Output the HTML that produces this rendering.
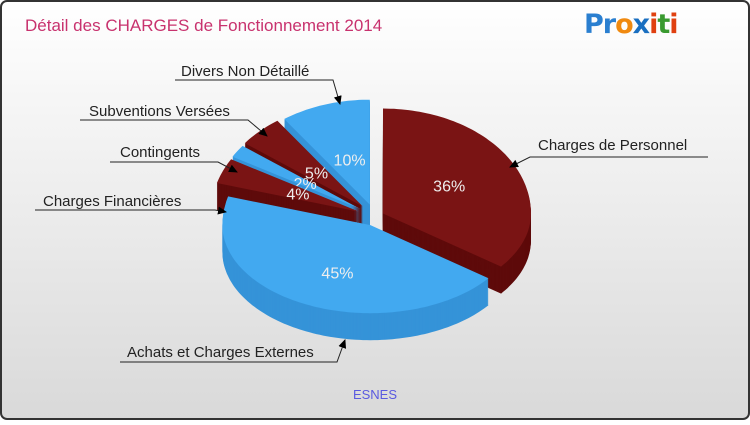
<!DOCTYPE html>
<html><head><meta charset="utf-8"><style>
body{margin:0;width:750px;height:420px;overflow:hidden;font-family:"Liberation Sans",sans-serif}
</style></head><body>
<svg id="c" width="750" height="420" viewBox="0 0 750 420">
<defs>
<linearGradient id="bg" x1="0" y1="0" x2="0" y2="1"><stop offset="0" stop-color="#ffffff"/><stop offset="1" stop-color="#d9d9d9"/></linearGradient>
<marker id="ar" markerWidth="10" markerHeight="10" refX="8" refY="4" orient="auto" markerUnits="userSpaceOnUse"><path d="M0,0 L9,4 L0,8 z" fill="#000"/></marker>
</defs>
<rect x="1" y="1" width="748" height="418" rx="6" fill="url(#bg)" stroke="#333" stroke-width="2"/>
<text x="25" y="31" font-size="17" fill="#c8326e">Détail des CHARGES de Fonctionnement 2014</text>
<text x="584" y="33" font-size="27" font-weight="bold" font-family="'DejaVu Sans',sans-serif" letter-spacing="-1"><tspan fill="#2a7fd0">Pr</tspan><tspan fill="#f08a10">o</tspan><tspan fill="#1a6fc0">x</tspan><tspan fill="#e04010">i</tspan><tspan fill="#3a9a30">t</tspan><tspan fill="#e04010">i</tspan></text>
<g id="slices"></g>
<g id="labels" font-size="15" fill="#222"></g>
<text x="375" y="399" font-size="13" fill="#5a5ae0" text-anchor="middle">ESNES</text>
</svg>
<script>
const categories=["Charges de Personnel","Achats et Charges Externes","Charges Financières","Contingents","Subventions Versées","Divers Non Détaillé"];
const values=[36,45,4,2,5,10];
const pctLabels=["36%","45%","4%","2%","5%","10%"];
const NS="http://www.w3.org/2000/svg";
const cx=374,cy=218,rx=148,ryTop=105,ryBot=88,depth=27;
const explodeBy=[10,8,16,16,16,14];
const colTop=["#7a1414","#42a9f0"],colSide=["#5e0a0a","#3593d8"];
const total=values.reduce((a,b)=>a+b,0);
const g=document.getElementById('slices');
let a=-Math.PI/2;const sl=[];
values.forEach((v,i)=>{const s=a,e=a+v/total*2*Math.PI;a=e;sl.push({i,s,e,m:(s+e)/2});});
function ry(t){return Math.sin(t)<0?ryTop:ryBot;}
function path(s,e,ox,oy){const p=[`M${ox},${oy}`];const n=Math.max(2,Math.ceil((e-s)*40));for(let k=0;k<=n;k++){const t=s+(e-s)*k/n;p.push(`L${(ox+rx*Math.cos(t)).toFixed(1)},${(oy+ry(t)*Math.sin(t)).toFixed(1)}`);}return p.join(' ')+'Z';}
const order=sl.slice().sort((p,q)=>Math.sin(p.m)-Math.sin(q.m));
order.forEach(o=>{
 const ex=explodeBy[o.i];
 const ox=cx+ex*Math.cos(o.m),oy=cy+ex*Math.sin(o.m);
 const grp=document.createElementNS(NS,'g');
 
 
 for(let d=depth;d>0;d-=1){const p=document.createElementNS(NS,'path');p.setAttribute('d',path(o.s,o.e,ox,oy+d));p.setAttribute('fill',colSide[o.i%2]);grp.appendChild(p);}
 const t=document.createElementNS(NS,'path');t.setAttribute('d',path(o.s,o.e,ox,oy));t.setAttribute('fill',colTop[o.i%2]);grp.appendChild(t);
 const big=values[o.i]/total>0.2;
 const lx=ox+rx*(big?0.5:0.45)*Math.cos(o.m),ly=oy+ry(o.m)*(big?0.6:0.45)*Math.sin(o.m)+6;
 const tx=document.createElementNS(NS,'text');tx.setAttribute('x',lx);tx.setAttribute('y',ly);tx.setAttribute('text-anchor','middle');tx.setAttribute('font-size','16');tx.setAttribute('fill','#eee');tx.textContent=pctLabels[o.i];
 
 
 grp.appendChild(tx);g.appendChild(grp);
});
const L=document.getElementById('labels');
const lab=[[538,150,530,708,157,510,167],[127,357,120,337,362,345,340],[43,206,35,215,210,226,212],[120,157,110,218,162,237,172],[89,116,80,248,120,267,136],[181,76,175,333,80,340,104]];
lab.forEach((l,i)=>{
 const t=document.createElementNS(NS,'text');t.setAttribute('x',l[0]);t.setAttribute('y',l[1]);t.textContent=categories[i];
 
 
 L.appendChild(t);
 const left=l[5]<l[2];const sx=left?l[2]:l[3];
 const ln=document.createElementNS(NS,'polyline');
 ln.setAttribute('points',`${left?l[3]:l[2]},${l[4]} ${sx},${l[4]} ${l[5]},${l[6]}`);
 ln.setAttribute('fill','none');ln.setAttribute('stroke','#222');ln.setAttribute('stroke-width','1');ln.setAttribute('marker-end','url(#ar)');
 
 
 L.appendChild(ln);
});
</script>
</body></html>
